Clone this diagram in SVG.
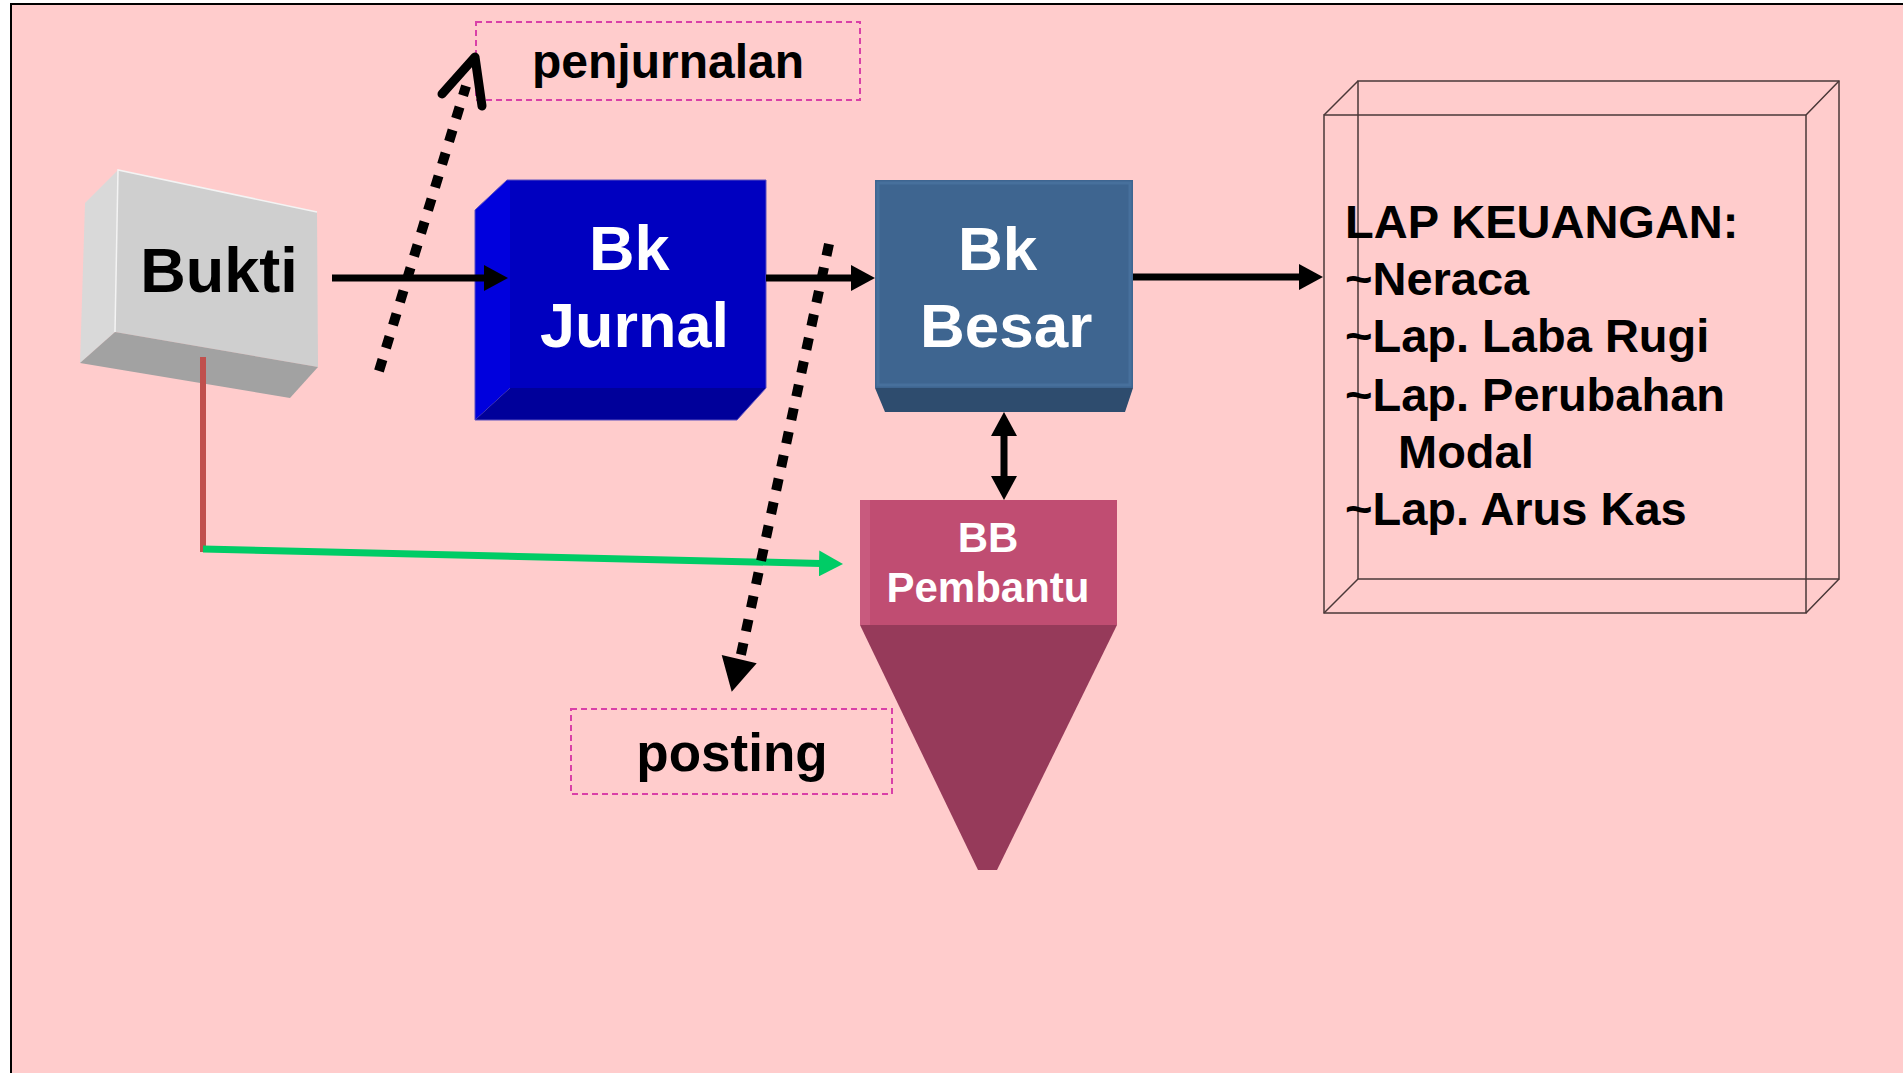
<svg xmlns="http://www.w3.org/2000/svg" width="1903" height="1073" viewBox="0 0 1903 1073">
<defs>
<style>
.t{font-family:"Liberation Sans",Arial,sans-serif;font-weight:bold}
.w{fill:#ffffff}
.k{fill:#000000}
.dash{fill:none;stroke:#D940A8;stroke-width:2;stroke-dasharray:6 4}
.dot{fill:none;stroke:#000;stroke-width:10;stroke-dasharray:12 12}
.arr{stroke:#000;stroke-width:7;fill:none}
.lap{fill:none;stroke:#4a3838;stroke-width:1.5}
</style>
<marker id="ah" markerUnits="userSpaceOnUse" viewBox="0 0 24 26" markerWidth="24" markerHeight="26" refX="2" refY="13" orient="auto-start-reverse"><path d="M0,0 L24,13 L0,26 Z" fill="#000"/></marker>
<marker id="ahg" markerUnits="userSpaceOnUse" viewBox="0 0 24 26" markerWidth="24" markerHeight="26" refX="2" refY="13" orient="auto"><path d="M0,0 L24,13 L0,26 Z" fill="#00CC66"/></marker>
</defs>
<rect x="0" y="0" width="1903" height="1073" fill="#ffffff"/>
<rect x="11" y="4" width="1910" height="1090" fill="#FFCCCC" stroke="#000" stroke-width="2"/>

<g id="bukti">
<polygon points="118,170 85,203 80,363 115,332" fill="#D9D9D9"/>
<polygon points="118,170 317,212 318,367 115,332" fill="#CFCFCF"/>
<polygon points="115,332 318,367 290,398 80,363" fill="#A2A2A2"/>
<polyline points="115,332 118,170 317,212" fill="none" stroke="#F4F4F4" stroke-width="1.5"/>
<text class="t k" x="219" y="292" font-size="63" text-anchor="middle">Bukti</text>
</g>

<g id="bk-jurnal">
<polygon points="475,210 507,180 510,180 510,388 475,420" fill="#0000DD"/>
<rect x="510" y="180" width="256" height="208" fill="#0000C0"/>
<polygon points="475,420 510,388 766,388 737,420" fill="#00009A"/>
<polygon points="475,210 507,180 766,180 766,388 737,420 475,420" fill="none" stroke="#5a4fc0" stroke-width="1"/>
<text class="t w" x="589" y="270" font-size="63">Bk</text>
<text class="t w" x="540" y="347" font-size="63">Jurnal</text>
</g>

<g id="bk-besar">
<rect x="875" y="180" width="258" height="208" fill="#3E6590"/>
<rect x="878" y="183" width="252" height="202" fill="none" stroke="#47709c" stroke-width="3"/>
<polygon points="875,388 1133,388 1125,412 885,412" fill="#2E4C6E"/>
<text class="t w" x="958" y="270" font-size="62">Bk</text>
<text class="t w" x="920" y="347" font-size="62">Besar</text>
</g>

<g id="bb-pembantu">
<rect x="860" y="500" width="257" height="125" fill="#C04D72"/>
<rect x="860" y="500" width="10" height="125" fill="#C85A7E"/>
<polygon points="860,625 1117,625 997,870 978,870" fill="#963A5A"/>
<text class="t w" x="988" y="552" font-size="42" text-anchor="middle">BB</text>
<text class="t w" x="988" y="602" font-size="42" text-anchor="middle">Pembantu</text>
</g>

<g id="lap-keuangan">
<rect class="lap" x="1358" y="81" width="481" height="498"/>
<rect class="lap" x="1324" y="115" width="482" height="498" stroke-width="2"/>
<path class="lap" d="M1324,115 L1358,81 M1806,115 L1839,81 M1806,613 L1839,579 M1324,613 L1358,579"/>
<text class="t k" font-size="47">
<tspan x="1345" y="238">LAP KEUANGAN:</tspan>
<tspan x="1345" y="295">~Neraca</tspan>
<tspan x="1345" y="352">~Lap. Laba Rugi</tspan>
<tspan x="1345" y="411">~Lap. Perubahan</tspan>
<tspan x="1398" y="468">Modal</tspan>
<tspan x="1345" y="525">~Lap. Arus Kas</tspan>
</text>
</g>

<g id="penjurnalan">
<rect class="dash" x="476" y="22" width="384" height="78"/>
<text class="t k" x="668" y="78" font-size="48" text-anchor="middle">penjurnalan</text>
</g>

<g id="posting">
<rect class="dash" x="571" y="709" width="321" height="85"/>
<text class="t k" x="732" y="771" font-size="53" text-anchor="middle">posting</text>
</g>

<g id="connectors">
<line class="arr" x1="332" y1="278" x2="486" y2="278" marker-end="url(#ah)"/>
<line class="arr" x1="766" y1="278" x2="853" y2="278" marker-end="url(#ah)"/>
<line class="arr" x1="1133" y1="277" x2="1301" y2="277" marker-end="url(#ah)"/>
<line class="arr" x1="1004" y1="434" x2="1004" y2="478" stroke-width="6" marker-start="url(#ah)" marker-end="url(#ah)"/>
<line x1="203" y1="357" x2="203" y2="552" stroke="#C0504D" stroke-width="6"/>
<line x1="203" y1="549" x2="821" y2="563.5" stroke="#00CC66" stroke-width="7" marker-end="url(#ahg)"/>
<line class="dot" x1="379" y1="371" x2="466" y2="86"/>
<polyline points="442,94 475,57 482,106" fill="none" stroke="#000" stroke-width="9" stroke-linecap="round" stroke-linejoin="round"/>
<line class="dot" x1="829" y1="244" x2="740" y2="659"/>
<polygon points="731.7,691.7 721.7,655 756.7,663.3" fill="#000"/>
</g>
</svg>
